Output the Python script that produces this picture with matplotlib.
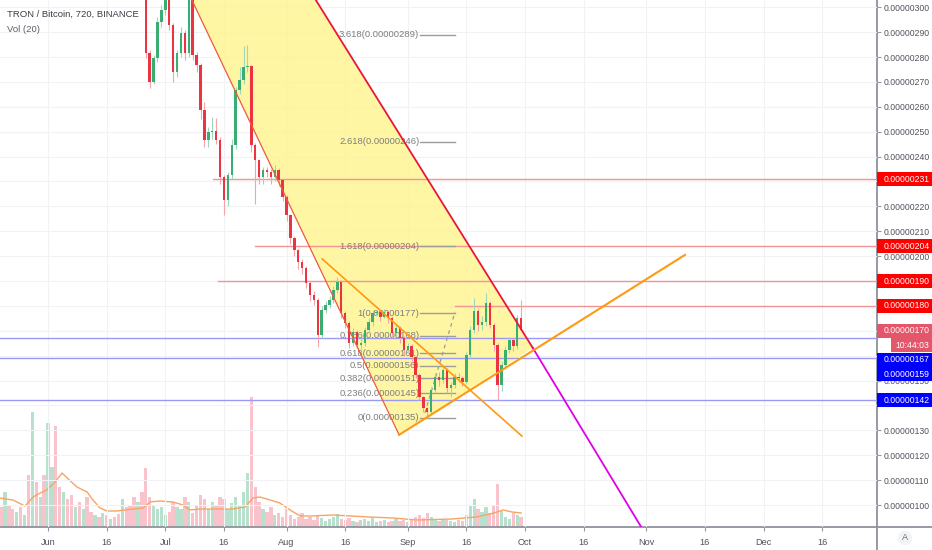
import matplotlib
matplotlib.use('Agg')
import numpy as np
import matplotlib.pyplot as plt
from matplotlib.transforms import blended_transform_factory
from matplotlib.patches import Polygon, Rectangle
from matplotlib.lines import Line2D

plt.rcParams['font.family'] = ['Liberation Sans', 'DejaVu Sans']

# x axis = days since 1 Jun 2019, prices in satoshi (1e-8 BTC)
first_day = 24
first_open = 322.0
closes = [319.0, 281.6, 270.0, 279.6, 294.1, 298.9, 304.9, 292.9, 274.0, 281.6, 289.7, 281.6,
          306.9, 280.8, 276.8, 258.7, 246.7, 249.9, 250.3, 246.7, 231.8, 222.6, 232.6, 244.7,
          266.8, 270.8, 276.0, 276.4, 244.7, 238.6, 231.8, 234.6, 233.8, 231.8, 234.6, 230.6,
          223.8, 216.5, 207.3, 202.5, 197.7, 195.2, 189.2, 184.4, 182.4, 168.3, 178.4, 180.4,
          182.4, 186.4, 189.6, 177.2, 173.2, 165.1, 169.5, 164.3, 165.1, 170.3, 173.6, 177.2,
          177.6, 175.6, 177.6, 175.2, 169.1, 171.1, 167.1, 162.3, 163.9, 159.5, 152.3, 143.4,
          139.0, 137.4, 146.2, 151.4, 150.2, 154.3, 147.0, 148.2, 151.4, 151.0, 149.4, 160.3,
          170.3, 178.0, 172.3, 173.6, 181.2, 172.3, 164.3, 148.2, 156.3, 162.3, 166.3, 163.9,
          175.2, 170.5]
highs = [321, 320, 283, 281, 296, 301, 308, 305.5, 293.5, 283, 292, 291,
         310, 307, 282, 277.5, 262, 252, 256, 255.5, 248, 232.5, 234, 247,
         268, 276, 284.5, 285, 277, 245.5, 239, 236, 236, 235, 236.5, 235.5,
         231, 224.5, 217, 208, 203, 199, 196, 190, 186, 183, 180, 182,
         184, 188, 191.5, 190.5, 178, 174, 171, 170.5, 167, 171.5, 175, 178.5,
         178.5, 178, 178.8, 178, 176, 172.5, 172, 168, 165, 164.5, 160, 153,
         144, 139.5, 147.5, 153, 153.5, 156, 155, 149.5, 153, 153, 152, 161.5,
         172, 183, 179, 176, 185.2, 182, 173, 165, 158, 164, 167.5, 167,
         176.5, 182.5]
lows = [316, 279.5, 267.5, 269, 278, 292, 297, 291, 270, 272, 280, 279,
        280, 279, 274, 255, 244, 244, 247, 245, 229, 216.5, 220, 231,
        243, 265, 269, 274, 242, 221, 229, 229, 232, 229, 230, 228,
        222, 214, 205, 200, 195, 193, 187, 182, 180.5, 163.5, 167, 177,
        179, 181, 185, 175, 171, 163, 164, 163, 162, 164, 169, 172,
        176, 174, 175, 173, 167, 168, 165, 160, 161, 158, 151, 142,
        137.5, 135, 136.5, 145, 148, 149, 145, 143.5, 147, 149.5, 148, 148.5,
        159, 169, 170, 170.5, 172, 171, 162, 142.2, 146, 155, 161, 162,
        162.5, 170]

# volume, days -12 .. 121
vol_first_day = -12
volumes = [20, 35, 22, 18, 15, 20, 12, 52, 115, 45, 30, 52,
           104, 60, 101, 40, 35, 28, 32, 20, 25, 18, 30, 15,
           12, 10, 14, 12, 8, 10, 13, 28, 20, 22, 30, 25,
           35, 59, 30, 22, 18, 20, 12, 15, 25, 20, 18, 30,
           25, 14, 22, 32, 28, 18, 25, 22, 30, 28, 18, 24,
           30, 22, 35, 54, 130, 40, 25, 18, 15, 20, 12, 14,
           10, 18, 12, 8, 10, 14, 8, 10, 7, 12, 9, 6,
           8, 10, 13, 8, 7, 9, 6, 5, 7, 8, 6, 9,
           5, 6, 7, 5, 6, 8, 6, 7, 5, 8, 10, 12,
           9, 14, 10, 7, 6, 8, 7, 6, 5, 7, 6, 12,
           22, 28, 18, 15, 20, 14, 22, 43, 16, 10, 8, 14,
           12, 10]
# direction of the candles above the visible range (days -12 .. 23)
early_dir = 'RGRRGRGRGRGRGGRRGRRGRGRRGRGRGRRGRRRG'

vol_ma_days = [-12.3, -9, -5.9, -3.8, -2, -0.3, 1.8, 3.6, 4.9, 7.4, 10, 11.5, 13.3, 15.1, 17.6,
               21.7, 24.3, 26.1, 28.6, 32, 34.5, 36.3, 38.9, 43.2, 47.3, 50.4, 52.4, 54.2, 56.8,
               59.3, 61.9, 64.5, 67, 72.9, 82.1, 88.2, 94.4, 103.3, 109.5, 114.1, 116.4, 118.7, 121]
vol_ma = [29, 27, 21, 30, 34, 37, 45, 54, 49, 40, 35, 27, 19, 16, 16,
          18, 19, 25, 26, 25, 22, 17, 18, 18, 18, 20, 29, 30, 27,
          24, 17, 11, 11, 12, 10, 9, 7, 8, 10, 14, 17, 15, 14]

date_ticks = [0, 15, 30, 45, 61, 76, 92, 107, 122, 137, 153, 168, 183, 198]
date_labels = ['Jun', '16', 'Jul', '16', 'Aug', '16', 'Sep', '16', 'Oct', '16', 'Nov', '16', 'Dec', '16']

# drawings (day, price)
channel_poly_days = [36.8, 68.5, 124.0, 89.8]
channel_poly_prices = [302.9, 302.9, 163.1, 128.2]
left_edge = ([36.8, 89.8], [302.9, 128.2])
right_edge = ([68.5, 124.0], [302.9, 163.1])
projection = ([124.0, 151.7], [163.1, 91.2])
rising_trend = ([89.8, 162.9], [128.2, 200.5])
falling_trend = ([70.1, 121.2], [198.9, 127.7])
fib_trend = ([96.4, 104.1], [137.0, 177.6])

fib_ratios = ['0', '0.236', '0.382', '0.5', '0.618', '0.786', '1', '1.618', '2.618', '3.618']
fib_prices = [135, 145, 151, 156, 161, 168, 177, 204, 246, 289]
fib_from, fib_to = 95.1, 104.1

red_levels = [231, 204, 190, 180]
red_starts = [42.2, 52.9, 43.5, 104.1]
blue_levels = [167, 159, 142]
last_price = 170
countdown = '10:44:03'
price_ticks = list(range(100, 301, 10))

GREEN = '#3AAE72'
RED = '#EC3341'

fig = plt.figure(figsize=(9.32, 5.5), dpi=100)
fig.patch.set_facecolor('white')
ax = fig.add_axes([0, 23 / 550, 877 / 932, 527 / 550])
axv = ax.twinx()
ax.set_zorder(2)
axv.set_zorder(1)
ax.patch.set_visible(False)

xmin, xmax = -12.28, 212.02
ymin, ymax = 91.16, 302.93
ax.set_xlim(xmin, xmax)
ax.set_ylim(ymin, ymax)

# volume
vdays = np.arange(vol_first_day, vol_first_day + len(volumes))
opens = [first_open] + closes[:-1]
cdays = np.arange(first_day, first_day + len(closes))
up = np.array(closes) >= np.array(opens)
vcol = []
for d in vdays:
    if d < first_day:
        is_up = early_dir[d - vol_first_day] == 'G'
    else:
        is_up = up[d - first_day]
    vcol.append('#B7E1CD' if is_up else '#F8C3CA')
axv.bar(vdays, volumes, width=0.85, color=vcol, linewidth=0)
axv.plot(vol_ma_days, vol_ma, color='#F6A565', lw=1)
axv.set_ylim(0, 527)
axv.set_yticks([])
for s in axv.spines.values():
    s.set_visible(False)

# grid
for d in date_ticks:
    ax.axvline(d, color='#F0F2F6', lw=0.8, zorder=0)
for p in price_ticks:
    ax.axhline(p, color='#F0F2F6', lw=0.8, zorder=0)

# yellow pattern
ax.add_patch(Polygon(list(zip(channel_poly_days, channel_poly_prices)), closed=True,
                     facecolor='#FFF59A', edgecolor='none', alpha=0.9, zorder=1))

# horizontal levels
for p, s in zip(red_levels, red_starts):
    ax.plot([s, xmax], [p, p], color='#F29494', lw=1, zorder=1.5)
for p in blue_levels:
    ax.plot([xmin, xmax], [p, p], color='#9A9AF4', lw=1, zorder=1.5)

# fib retracement
for r, p in zip(fib_ratios, fib_prices):
    ax.plot([fib_from, fib_to], [p, p], color='#9C9C9C', lw=1, zorder=2)
    ax.text(fib_from - 0.15, p, '%s(0.00000%d)' % (r, p), ha='right', va='center',
            fontsize=6.8, color='#7D7D7D', zorder=2)
ax.plot(fib_trend[0], fib_trend[1], color='#9C9C9C', lw=0.9, ls=(0, (3, 3)), zorder=2)

# candles
wick_col = ['#9ED8BC' if u else '#F4A3AA' for u in up]
ax.vlines(cdays, lows, highs, colors=wick_col, lw=0.8, zorder=2.8)
body = np.maximum(np.abs(np.array(closes) - np.array(opens)), 0.4)
ax.bar(cdays, body, bottom=np.minimum(closes, opens), width=0.62,
       color=[GREEN if u else RED for u in up], linewidth=0, zorder=3)

# trend lines
ax.plot(left_edge[0], left_edge[1], color='#F05A3C', lw=0.9, zorder=4)
ax.plot(right_edge[0], right_edge[1], color='#E8173A', lw=1.3, zorder=4)
ax.plot(projection[0], projection[1], color='#E000E6', lw=1.3, zorder=4)
ax.plot(rising_trend[0], rising_trend[1], color='#FF9A10', lw=1.5, zorder=4)
ax.plot(falling_trend[0], falling_trend[1], color='#FF9A10', lw=1.2, zorder=4)

# price labels on the axis (pushed down so they never overlap)
tr = blended_transform_factory(ax.transAxes, ax.transData)
px = (ymax - ymin) / 527.0
gap = 14.5 * px
labels = [(p, '#FF0000') for p in red_levels] + [(last_price, '#E4566A')] + \
         [(p, '#0000FF') for p in blue_levels]
labels.sort(key=lambda t: -t[0])
prev = None
boxes = []
for p, c in labels:
    y = p if prev is None else min(p, prev - gap)
    ax.add_patch(Rectangle((1.0, y - 7 * px), 55 / 877, 14 * px, transform=tr, facecolor=c,
                           edgecolor='none', clip_on=False, zorder=6))
    ax.text(1.0 + 7 / 877, y, '0.00000%d' % p, transform=tr, ha='left', va='center',
            fontsize=6.2, color='white', zorder=7, clip_on=False)
    boxes.append(y)
    prev = y
    if p == last_price:
        y2 = y - gap
        ax.add_patch(Rectangle((1.0 + 14 / 877, y2 - 7 * px), 41 / 877, 14 * px, transform=tr,
                               facecolor=c, edgecolor='none', clip_on=False, zorder=6))
        ax.text(1.0 + 35 / 877, y2, countdown, transform=tr, ha='center', va='center',
                fontsize=6.2, color='white', zorder=7, clip_on=False)
        boxes.append(y2)
        prev = y2

# axes
for s in ax.spines.values():
    s.set_visible(False)
ax.set_xticks(date_ticks)
ax.set_xticklabels(date_labels)
ax.yaxis.tick_right()
ax.set_yticks(price_ticks)
# tick labels sitting under a coloured price label are hidden, as on the platform
ax.set_yticklabels(['' if min(abs(p - b) for b in boxes) < 6 * px else '0.00000%d' % p
                    for p in price_ticks])
ax.tick_params(axis='y', length=3, width=0.8, color='#9598A1', pad=2, labelsize=6.2,
               labelcolor='#50535E')
ax.tick_params(axis='x', length=3, width=0.8, color='#9598A1', pad=5, labelsize=6.6,
               labelcolor='#50535E')

fig.add_artist(Line2D([877 / 932, 877 / 932], [0, 1], color='#8F929B', lw=1.3))
fig.add_artist(Line2D([0, 1], [23 / 550, 23 / 550], color='#8F929B', lw=1.3))

fig.text(7 / 932, 1 - 14 / 550, 'TRON / Bitcoin, 720, BINANCE', fontsize=6.8, color='#3B3E47',
         va='center')
fig.text(7 / 932, 1 - 29 / 550, 'Vol (20)', fontsize=6.8, color='#5D606B', va='center')
fig.text(905 / 932, 1 - 538 / 550, 'A', fontsize=6.5, color='#6A6D78', ha='center', va='center',
         bbox=dict(boxstyle='circle,pad=0.3', fc='#F2F3F5', ec='none'))

fig.savefig('out.png', dpi=100)
